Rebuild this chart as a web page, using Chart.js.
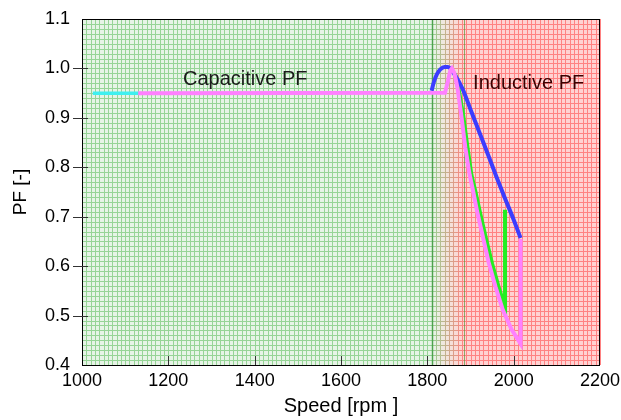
<!DOCTYPE html>
<html>
<head>
<meta charset="utf-8">
<script src="https://cdn.jsdelivr.net/npm/chart.js@4.4.1/dist/chart.umd.min.js"></script>
<style>
html,body{margin:0;padding:0;background:#fff;}
canvas{display:block;}
</style>
</head>
<body>
<canvas id="c" width="621" height="420"></canvas>
<script>
// ---- data ----
const xTicks = [1000, 1200, 1400, 1600, 1800, 2000, 2200];
const yTicks = [0.4, 0.5, 0.6, 0.7, 0.8, 0.9, 1.0, 1.1];

const cyanSpeed = [1025, 1130];
const cyanPF    = [0.95, 0.95];

const pinkSpeed = [1130, 1841, 1848, 1853, 1857, 1863, 1870, 1878, 1888, 1898, 1906, 1915, 1928, 1942, 1958, 1975, 1995, 2016, 2016];
const pinkPF    = [0.95, 0.951, 0.975, 0.995, 1.0, 0.99, 0.96, 0.91, 0.84, 0.785, 0.752, 0.712, 0.662, 0.608, 0.558, 0.511, 0.472, 0.443, 0.655];

const blueSpeed = [1810, 1815, 1822, 1830, 1840, 1848, 1855, 1865, 1875, 1883, 1900, 1920, 1940, 1960, 1980, 2000, 2016];
const bluePF    = [0.955, 0.972, 0.988, 0.998, 1.003, 1.003, 0.998, 0.985, 0.970, 0.956, 0.917, 0.872, 0.827, 0.781, 0.737, 0.694, 0.657];

const greenSpeed = [1864, 1873, 1883, 1893, 1902, 1911, 1922, 1936, 1950, 1965, 1980, 1980];
const greenPF    = [0.99, 0.955, 0.905, 0.84, 0.785, 0.752, 0.708, 0.655, 0.605, 0.558, 0.517, 0.714];

const greenZoneEnd = 1810;
const redZoneStart = 1885;

const capLabel = "Capacitive PF";
const indLabel = "Inductive PF";

function pts(xs, ys){ return xs.map((x,i)=>({x:x, y:ys[i]})); }

const FONT = "'Liberation Sans', Arial, sans-serif";

const bgPlugin = {
  id: 'bg',
  beforeDraw(chart){
    const ctx = chart.ctx, a = chart.chartArea, xs = chart.scales.x, ys = chart.scales.y;
    const g0 = xs.getPixelForValue(greenZoneEnd), g1 = xs.getPixelForValue(redZoneStart);
    ctx.save();
    const bg = ctx.createLinearGradient(g0,0,g1,0);
    bg.addColorStop(0,'rgb(230,244,230)');
    bg.addColorStop(1,'rgb(255,210,210)');
    ctx.fillStyle = bg;
    ctx.fillRect(a.left, a.top, a.right-a.left, a.bottom-a.top);
    const lg = ctx.createLinearGradient(g0,0,g1,0);
    lg.addColorStop(0,'rgb(150,212,150)');
    lg.addColorStop(1,'rgb(255,130,130)');
    ctx.strokeStyle = lg;
    ctx.lineWidth = 1;
    ctx.beginPath();
    for (let v = xs.min; v <= xs.max + 0.001; v += 10){
      const px = Math.round(xs.getPixelForValue(v)) + 0.5;
      ctx.moveTo(px, a.top); ctx.lineTo(px, a.bottom);
    }
    for (let k = 0; k <= 70; k++){
      const v = ys.min + k*0.01;
      const py = Math.round(ys.getPixelForValue(v)) + 0.5;
      ctx.moveTo(a.left, py); ctx.lineTo(a.right, py);
    }
    ctx.stroke();
    ctx.strokeStyle = 'rgba(60,150,60,0.8)';
    ctx.lineWidth = 1.5;
    ctx.beginPath();
    ctx.moveTo(Math.round(g0)+0.5, a.top); ctx.lineTo(Math.round(g0)+0.5, a.bottom);
    ctx.stroke();
    ctx.strokeStyle = 'rgba(90,150,60,0.7)';
    ctx.lineWidth = 1;
    ctx.beginPath();
    ctx.moveTo(Math.round(g1)+0.5, a.top); ctx.lineTo(Math.round(g1)+0.5, a.bottom);
    ctx.stroke();
    ctx.restore();
  },
  afterDatasetsDraw(chart){
    const ctx = chart.ctx, a = chart.chartArea, xs = chart.scales.x, ys = chart.scales.y;
    ctx.save();
    ctx.strokeStyle = '#000';
    ctx.lineWidth = 1;
    ctx.strokeRect(a.left+0.5, a.top+0.5, a.right-a.left-1, a.bottom-a.top);
    ctx.strokeStyle = '#333';
    ctx.beginPath();
    xTicks.forEach(v=>{
      if (v===xs.min || v===xs.max) return;
      const px = Math.round(xs.getPixelForValue(v))+0.5;
      ctx.moveTo(px, a.bottom); ctx.lineTo(px, a.bottom-9);
    });
    yTicks.forEach(v=>{
      if (v===ys.min || v===ys.max) return;
      const py = Math.round(ys.getPixelForValue(v))+0.5;
      ctx.moveTo(a.left-9, py); ctx.lineTo(a.left+6, py);
    });
    ctx.stroke();
    ctx.font = "20px " + FONT;
    ctx.textBaseline = 'alphabetic';
    ctx.fillStyle = '#1a1a1a';
    ctx.fillText(capLabel, xs.getPixelForValue(1234), 85);
    ctx.fillStyle = '#3a0000';
    ctx.fillText(indLabel, xs.getPixelForValue(1906), 89);
    ctx.restore();
  }
};

new Chart(document.getElementById('c'), {
  type: 'line',
  data: {
    datasets: [
      {data: pts(cyanSpeed, cyanPF), borderColor: '#40f0f0', borderWidth: 3.5, pointRadius: 0, tension: 0, order: 1},
      {data: pts(greenSpeed, greenPF), borderColor: '#22ee22', borderWidth: 4, pointRadius: 0, tension: 0, order: 4},
      {data: pts(blueSpeed, bluePF), borderColor: '#3c3cff', borderWidth: 4, pointRadius: 0, cubicInterpolationMode: 'monotone', order: 3},
      {data: pts(pinkSpeed, pinkPF), borderColor: '#ff80ff', borderWidth: 4, pointRadius: 0, tension: 0, order: 2}
    ]
  },
  options: {
    responsive: false,
    animation: false,
    devicePixelRatio: 1,
    layout: {padding: {top: 19, right: 21, left: 0, bottom: 0}},
    plugins: {legend: {display: false}, tooltip: {enabled: false}},
    scales: {
      x: {
        type: 'linear', min: 1000, max: 2200,
        afterBuildTicks: s => { s.ticks = xTicks.map(v=>({value:v})); },
        afterFit: s => { s.height = 55; s.paddingLeft = 0; s.paddingRight = 0; },
        grid: {display: true, drawOnChartArea: false, drawTicks: false},
        border: {display: false},
        ticks: {color: '#000', font: {family: FONT, size: 18}, padding: 5, maxRotation: 0,
                callback: v => String(v)},
        title: {display: true, text: 'Speed [rpm ]', color: '#000', font: {family: FONT, size: 20}, padding: {top: 0, bottom: 2}}
      },
      y: {
        type: 'linear', min: 0.4, max: 1.1,
        afterBuildTicks: s => { s.ticks = yTicks.map(v=>({value:v})); },
        afterFit: s => { s.width = 82; s.paddingTop = 0; s.paddingBottom = 0; },
        grid: {display: true, drawOnChartArea: false, drawTicks: false},
        border: {display: false},
        ticks: {color: '#000', font: {family: FONT, size: 18}, padding: 12,
                callback: v => v.toFixed(1)},
        title: {display: true, text: 'PF [-]', color: '#000', font: {family: FONT, size: 19}, padding: {top: 9, bottom: 0}}
      }
    }
  },
  plugins: [bgPlugin]
});
</script>
</body>
</html>
